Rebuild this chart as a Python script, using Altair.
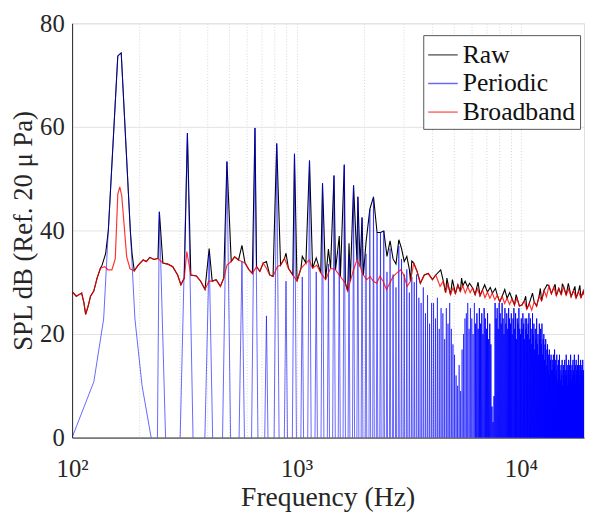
import altair as alt
import pandas as pd

# ---------------- data ----------------
F0 = 81.6  # harmonic spacing of the spectrum (Hz)
TROUGH = -55.0  # depth of the periodic spectrum between harmonics (off-axis, clipped)

# Periodic component: shape of the fundamental lobe (Hz, dB)
fund_f = [100, 125, 138.2, 145, 159.8, 165.5, 181.7, 190.5, 205, 225, 234]
fund_db = [0, 10.8, 22.9, 40, 73.7, 74.3, 40, 22.9, 10, 0, TROUGH]

# Periodic component: harmonic peak levels, orders 3..234 (dB)
per_orders = list(range(3, 235))
per_db = (
    [43.6, 58.8, 35.5, 53.3, 34.0, 59.8, 23.5, 56.8, 30.2, 54.8,
     31.0, 53.5, 32.0, 49.1, 33.5, 50.6, 36.0, 52.7, 35.0, 48.7,
     46.5, 42.5, 35.5, 44.1, 46.5, 39.6, 39.6, 39.9, 32.0, 36.5,
     31.5, 29.0, 37.0, 34.5, 31.5, 32.5, 28.0, 31.0, 30.0, 31.5,
     27.0, 26.0, 29.0, 24.0, 27.5, 22.0, 26.0]
    + [26, 23, 27, 21, 25, 24, 19, 25, 22, 26]
    + [21, 18, 16, 12, 10, 14, 9, 17, 20, 23]
    + [24, 26, 21, 25, 23, 20, 26, 22, 24, 21]
    + [25, 22, 24, 20, 25, 23, 21, 24, 19, 22]
    + [18, 6, 3, 8]
    + [26, 23, 25, 21, 26, 24, 22, 26, 23, 20, 25, 22, 24, 21, 25, 23]
    + [22, 24, 20, 23, 25, 21, 24, 19, 23, 22, 25, 21, 20, 23, 21, 24, 22, 19, 23, 21]
    + [23, 20, 22, 24, 19, 23, 21, 18, 24, 20, 22, 17, 21, 19, 23, 18, 20, 16, 22, 19]
    + [21, 18, 22, 16, 19, 20, 15, 18, 19, 14, 17, 18, 13, 16, 17, 12, 15, 16, 13, 15]
    + [13, 16, 14, 17, 12, 15, 13, 16, 11, 14, 15, 12, 16, 13, 11, 14, 12, 15, 10, 13]
    + [14, 12, 15, 11, 13, 16, 12, 14, 10, 13, 15, 11, 14, 12, 16, 13, 11, 14, 12, 15]
    + [13, 11, 16, 12, 14, 10, 15, 13, 11, 14, 12, 16, 13, 10, 14, 12, 15, 11, 13, 14,
       12, 15, 11, 13, 12]
)

# Broadband component (Hz, dB)
bb_f = [100, 104.4, 107.3, 110.3, 112.9, 114.9, 117.9, 120.8, 124.9, 129.2,
        133.7, 139.7, 144.4, 150.4, 155.7, 159.8, 163.1, 166.4, 175.1, 181.1,
        189.2, 197.0, 207.3, 214.3, 221.8, 231.6, 241.3, 253.8, 266.9, 280.8,
        295.3, 305.3, 316.1, 324.5, 338.0, 358.0, 373.9, 390.9, 407.1, 421.0,
        438.4, 457.9, 473.9, 490.0, 511.7, 529.7, 551.5, 570.2, 589.6, 614.0,
        635.6, 663.7, 686.3, 710.3, 734.4, 759.3, 786.0, 821.0, 848.9, 884.0,
        920.3, 962.3, 1005, 1047, 1101, 1139, 1179, 1231, 1282, 1348,
        1418, 1492, 1569, 1651, 1690, 1736, 1796, 1858, 1921, 1986,
        2056, 2126, 2198, 2275, 2352, 2432, 2517, 2603, 2691, 2785,
        2909, 3008, 3113, 3219, 3328, 3445, 3562, 3709, 3862, 4034,
        4175, 4361, 4509, 4615, 4733, 4854, 4978, 5105, 5236, 5370,
        5507, 5648, 5792, 5940, 6092, 6248, 6408, 6572, 6740, 6912,
        7089, 7270, 7456, 7647, 7843, 8043, 8249, 8460, 8676, 8898,
        9126, 9359, 9599, 9844, 10096, 10354, 10619, 10890, 11169, 11454,
        11747, 12048, 12356, 12672, 12996, 13328, 13669, 14018, 14377, 14745,
        15122, 15508, 15905, 16312, 16729, 17157, 17595, 18045, 18506, 18980,
        19100]
bb_db = [28.2, 27.3, 27.6, 27.9, 26.0, 23.8, 25.4, 27.3, 28.3, 30.8,
         32.7, 33.0, 32.4, 32.4, 34.5, 47.0, 48.4, 46.7, 34.9, 32.6,
         32.2, 33.3, 34.3, 34.0, 34.8, 34.4, 34.6, 33.7, 33.5, 33.0,
         31.4, 29.5, 30.8, 35.9, 31.4, 31.2, 30.2, 28.6, 30.2, 30.2,
         30.5, 29.2, 30.8, 33.3, 34.0, 34.9, 34.3, 34.0, 33.7, 32.4,
         31.7, 33.0, 32.1, 33.7, 32.7, 31.4, 31.1, 33.0, 33.3, 34.6,
         32.7, 31.4, 30.2, 32.7, 33.7, 34.3, 32.7, 33.3, 31.8, 30.5,
         32.7, 32.4, 31.1, 29.8, 28.3, 30.2, 32.4, 34.3, 33.0, 31.4,
         30.5, 31.1, 30.2, 29.8, 31.1, 30.2, 28.6, 29.8, 31.1, 31.7,
         32.4, 31.4, 29.2, 30.2, 33.7, 32.1, 29.8, 31.4, 31.7, 30.5,
         31.4, 29.2, 30.2, 28.0, 29.6, 27.6, 28.9, 27.8, 29.5, 28.2,
         29.3, 27.9, 29.1, 28.0, 28.9, 27.6, 28.7, 27.4, 28.5, 27.0,
         28.1, 26.9, 27.9, 26.6, 27.5, 26.2, 27.3, 25.9, 26.9, 25.7,
         26.8, 25.6, 26.9, 25.4, 25.6, 26.4, 24.8, 25.9, 24.6, 26.2,
         25.4, 27.3, 26.4, 28.4, 27.2, 29.3, 27.8, 29.0, 27.4, 28.8,
         27.6, 29.1, 27.5, 28.7, 27.2, 28.4, 26.9, 28.2, 27.0, 28.3,
         27.6]

# Raw spectrum: levels that rise above the broadband curve
raw_fund_f = [136, 141, 145, 159.8, 165.5, 173, 181.7, 185]
raw_fund_db = [33.3, 35.5, 40, 73.7, 74.3, 58, 40, 35.5]
raw_orders = list(range(3, 41))
raw_peak_db = [43.6, 58.8, 36.5, 53.3, 37.1, 59.8, 34.0, 56.8, 35.6, 54.8,
               35.0, 53.5, 34.7, 49.1, 36.4, 50.6, 38.9, 52.7, 37.5, 48.7,
               46.5, 42.5, 37.7, 44.1, 46.5, 39.6, 39.6, 39.9, 35.0, 38.0,
               34.5, 33.5, 38.2, 36.5, 34.0, 35.0, 32.5, 34.1]
raw_hf_f = [4390, 4680, 4950, 5440, 5640, 5900, 6440, 6890, 7300, 7700, 8470,
            8910, 9520, 10500, 11260, 12200, 13080, 14200, 15300, 16260, 17400, 18300]
raw_hf_db = [32.4, 30.8, 30.5, 30.8, 30.2, 29.8, 30.0, 29.5, 29.0, 28.8, 28.6,
             28.0, 27.6, 27.3, 27.9, 28.8, 29.5, 29.6, 29.7, 29.8, 29.2, 29.4]

series_names = ["Raw", "Periodic", "Broadband"]
series_colors = ["#000000", "#0000ff", "#ff0000"]
x_ticks = [100, 200, 300, 400, 500, 600, 700, 800, 900,
           1000, 2000, 3000, 4000, 5000, 6000, 7000, 8000, 9000, 10000]
y_ticks = [0, 20, 40, 60, 80]
SPLIT_HZ = 6300  # periodic drawn lighter below, denser above (as in the figure)

# ---------------- assemble line vertices ----------------
per_f = [F0 * n for n in per_orders]
p_f, p_db = list(fund_f), list(fund_db)
for i, (f, v) in enumerate(zip(per_f, per_db)):
    p_f.append(f)
    p_db.append(v)
    if i + 1 < len(per_f):
        p_f.append((f * per_f[i + 1]) ** 0.5)
        p_db.append(TROUGH)

segments = [(raw_fund_f, raw_fund_db)]
segments += [([F0 * n], [v]) for n, v in zip(raw_orders, raw_peak_db)]
segments += [([f], [v]) for f, v in zip(raw_hf_f, raw_hf_db)]
spans = [(min(fs) * 0.99, max(fs) * 1.01) for fs, _ in segments]
raw_pts = [(f, v) for f, v in zip(bb_f, bb_db)
           if not any(lo <= f <= hi for lo, hi in spans)]
for fs, vs in segments:
    raw_pts += list(zip(fs, vs))
raw_pts.sort()

rows = []
for i, (f, v) in enumerate(raw_pts):
    rows.append({"freq": f, "spl": v, "series": "Raw", "part": "a", "i": i})
split_idx = next(k for k, f in enumerate(p_f) if f > SPLIT_HZ)
for i, (f, v) in enumerate(zip(p_f, p_db)):
    if i <= split_idx:
        rows.append({"freq": f, "spl": v, "series": "Periodic", "part": "a", "i": i})
    if i >= split_idx - 1:
        rows.append({"freq": f, "spl": v, "series": "Periodic", "part": "b", "i": i})
for i, (f, v) in enumerate(zip(bb_f, bb_db)):
    rows.append({"freq": f, "spl": v, "series": "Broadband", "part": "a", "i": i})
df = pd.DataFrame(rows)

FONT = "Liberation Serif"
label_expr = ("datum.value == 100 ? '10²' : datum.value == 1000 ? '10³' : "
              "datum.value == 10000 ? '10⁴' : ''")

x_enc = alt.X("freq:Q",
              scale=alt.Scale(type="log", domain=[100, 19100], nice=False),
              axis=alt.Axis(values=x_ticks, labelExpr=label_expr, title="Frequency (Hz)",
                            grid=True, gridColor="#d4d4d4", gridDash=[1, 2],
                            ticks=False, labelPadding=19, labelFontSize=25,
                            labelFont=FONT, labelColor="#262626", labelFlush=False,
                            titleFont=FONT, titleFontSize=28, titleFontWeight="normal",
                            titleColor="#262626", titleBaseline="alphabetic",
                            titleX=259, titleY=69, domainColor="#262626"))
y_enc = alt.Y("spl:Q",
              scale=alt.Scale(domain=[0, 80], nice=False),
              axis=alt.Axis(values=y_ticks, title="SPL dB (Ref. 20 μ Pa)",
                            grid=True, gridColor="#e3e3e3", ticks=False,
                            labelPadding=8, labelFontSize=25, labelFont=FONT,
                            labelColor="#262626", titleFont=FONT, titleFontSize=27,
                            titleFontWeight="normal", titleColor="#262626",
                            titleAngle=-90, titleBaseline="middle", titleAlign="center",
                            titleX=-49, titleY=210, domainColor="#262626"))
color_enc = alt.Color("series:N",
                      scale=alt.Scale(domain=series_names, range=series_colors),
                      legend=alt.Legend(title=None, orient="none", legendX=356, legendY=12,
                                        symbolType="stroke", symbolSize=900,
                                        symbolStrokeWidth=1.5, symbolOpacity=0.6,
                                        labelFont=FONT, labelFontSize=26, labelColor="#111111",
                                        labelOffset=4, padding=4, rowPadding=0,
                                        strokeColor="#555555", fillColor="#ffffff",
                                        labelLimit=300))

base = alt.Chart(df).encode(x=x_enc, y=y_enc, color=color_enc, order="i:Q")
raw_layer = base.transform_filter(alt.datum.series == "Raw").mark_line(
    clip=True, strokeWidth=1.1)
per_layer_a = base.transform_filter(
    (alt.datum.series == "Periodic") & (alt.datum.part == "a")).mark_line(
    clip=True, strokeWidth=1, opacity=0.6)
per_layer_b = base.transform_filter(
    (alt.datum.series == "Periodic") & (alt.datum.part == "b")).mark_line(
    clip=True, strokeWidth=1, opacity=0.9)
bb_layer = base.transform_filter(alt.datum.series == "Broadband").mark_line(
    clip=True, strokeWidth=1.2, opacity=0.8)

chart = alt.layer(raw_layer, per_layer_a, per_layer_b, bb_layer).properties(
    width=519, height=420,
    autosize=alt.AutoSizeParams(type="none"),
    padding={"left": 65, "top": 12, "right": 1, "bottom": 77},
).configure_view(stroke="#262626", strokeWidth=1).configure(background="white")

chart.save("out.html", embed_options={"renderer": "svg", "actions": False})
